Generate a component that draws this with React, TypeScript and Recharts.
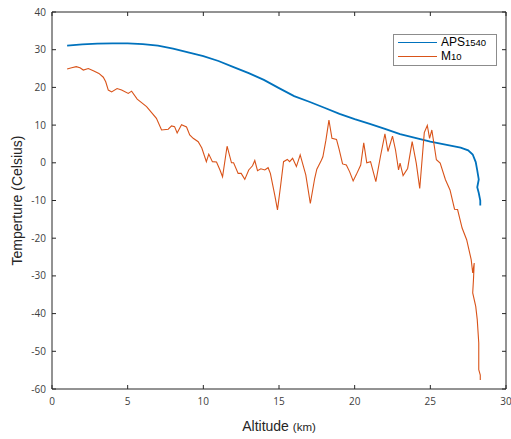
import { LineChart, Line, XAxis, YAxis, Legend } from "recharts";

const apsAlt = [
  1.0, 2.0, 3.0, 4.0, 5.0, 6.0, 7.0, 8.0, 9.0, 10.0, 11.0, 12.0, 13.0, 14.0,
  15.0, 16.0, 17.0, 18.0, 19.0, 20.0, 21.0, 22.0, 23.0, 24.0, 25.0, 26.0, 27.0,
  27.5, 27.8, 28.0, 28.1, 28.2, 28.1, 28.2, 28.3, 28.3,
];
const apsTemp = [
  31.1, 31.4, 31.6, 31.7, 31.7, 31.5, 31.1, 30.3, 29.3, 28.3, 27.0, 25.4, 23.8,
  22.0, 19.8, 17.7, 16.2, 14.6, 13.0, 11.6, 10.3, 9.0, 7.6, 6.6, 5.6, 4.8, 4.0,
  3.3, 2.2, 0.2, -2.0, -4.4, -6.5, -8.0, -10.0, -11.3,
];

const m10Alt = [
  1.0, 1.3, 1.6, 1.85, 2.07, 2.4, 2.73, 3.1, 3.39, 3.55, 3.72, 3.94, 4.3, 4.6,
  5.04, 5.26, 5.63, 6.25, 6.9, 7.24, 7.68, 7.9, 8.1, 8.27, 8.56, 8.89, 9.1,
  9.33, 9.66, 9.9, 10.2, 10.36, 10.6, 10.87, 11.1, 11.27, 11.57, 11.86, 12.0,
  12.3, 12.5, 12.74, 13.0, 13.25, 13.4, 13.58, 13.8, 14.06, 14.28, 14.43, 14.72,
  14.9, 15.1, 15.3, 15.55, 15.7, 15.9, 16.15, 16.4, 16.77, 17.07, 17.36, 17.5,
  17.8, 17.9, 18.1, 18.3, 18.5, 18.8, 18.97, 19.2, 19.45, 19.67, 19.9, 20.1,
  20.4, 20.6, 20.8, 21.05, 21.4, 21.7, 22.0, 22.2, 22.5, 22.7, 22.9, 23.0, 23.2,
  23.5, 23.8, 24.07, 24.3, 24.6, 24.8, 24.95, 25.1, 25.4, 25.65, 26.0, 26.3,
  26.6, 26.8, 27.1, 27.4, 27.7, 27.8, 27.9, 27.85, 27.8, 28.0, 28.1, 28.2, 28.2,
  28.2, 28.3, 28.3,
];
const m10Temp = [
  24.9, 25.2, 25.5, 25.2, 24.6, 25.0, 24.4, 23.7, 22.7, 21.5, 19.3, 18.8, 19.7,
  19.3, 18.4, 19.0, 16.9, 14.9, 11.8, 8.7, 8.9, 9.8, 9.6, 7.9, 10.1, 9.5, 7.4,
  6.5, 5.6, 3.9, 0.3, 2.3, 0.3, 0.2, -1.9, -3.7, 4.4, 0.0, 0.0, -2.8, -2.8,
  -4.4, -1.9, -0.8, 0.6, -2.1, -1.6, -1.9, -1.3, -2.8, -8.6, -12.5, -6.3, 0.3,
  0.9, 0.3, 1.2, -1.0, 2.1, -3.2, -10.8, -4.1, -1.7, 0.7, 1.6, 6.0, 11.3, 6.5,
  6.2, 3.6, -0.3, -0.6, -2.4, -4.8, -3.2, -0.6, 5.3, 0.0, 0.3, -5.0, 1.6, 7.7,
  3.0, 7.1, 3.4, -1.9, -0.1, -3.4, -1.5, 5.6, -0.1, -6.8, 8.0, 9.9, 6.5, 8.7,
  0.8, -0.1, -4.5, -7.2, -12.3, -12.4, -17.3, -20.4, -25.7, -29.2, -26.6, -31.0,
  -34.5, -38.1, -41.6, -47.8, -51.4, -54.9, -56.3, -57.6,
];

const xTicks = [0, 5, 10, 15, 20, 25, 30];
const yTicks = [-60, -50, -40, -30, -20, -10, 0, 10, 20, 30, 40];

const apsData = apsAlt.map((alt, i) => ({ alt, temp: apsTemp[i] }));
const m10Data = m10Alt.map((alt, i) => ({ alt, temp: m10Temp[i] }));

const AXIS = "#262626";
const TICK_FONT = "'Open Sans', 'Noto Sans', sans-serif";
const LABEL_FONT = "'Liberation Sans', Arial, sans-serif";
const tickStyle = { fontSize: 10, fill: "#404040", fontFamily: TICK_FONT };
const lineStyle = { stroke: AXIS, strokeWidth: 1 };
const noLabel = () => "";

const XTitle = (props: any) => {
  const { viewBox } = props;
  const cx = viewBox.x + viewBox.width / 2;
  return (
    <text
      x={cx}
      y={viewBox.y + 42}
      textAnchor="middle"
      fontFamily={LABEL_FONT}
      fill={AXIS}
    >
      <tspan fontSize={14}>Altitude </tspan>
      <tspan fontSize={11.5}>(km)</tspan>
    </text>
  );
};

const YTitle = (props: any) => {
  const { viewBox } = props;
  const cy = viewBox.y + viewBox.height / 2;
  const cx = 17;
  return (
    <text
      x={cx}
      y={cy}
      dy="0.35em"
      textAnchor="middle"
      transform={`rotate(-90, ${cx}, ${cy})`}
      fontSize={14}
      fontFamily={LABEL_FONT}
      fill={AXIS}
    >
      Temperture (Celsius)
    </text>
  );
};

const legendItems = [
  { name: "APS", sub: "1540", color: "#0072BD" },
  { name: "M", sub: "10", color: "#D95319" },
];

const LegendBox = () => (
  <div
    style={{
      border: "1px solid #8c8c8c",
      background: "#fff",
      width: 102,
      padding: "1px 0 2px 0",
      fontFamily: LABEL_FONT,
      color: "#000",
    }}
  >
    {legendItems.map((item) => (
      <div
        key={item.name}
        style={{ height: 13.5, display: "flex", alignItems: "center", paddingLeft: 4 }}
      >
        <div style={{ width: 39, height: 0, borderTop: `1px solid ${item.color}` }} />
        <span style={{ marginLeft: 4, fontSize: 12, lineHeight: "13px" }}>
          {item.name}
          <span style={{ fontSize: 9.5 }}>{item.sub}</span>
        </span>
      </div>
    ))}
  </div>
);

export default function App() {
  return (
    <div style={{ position: "absolute", left: 0, top: 0 }}>
      <LineChart
        width={511}
        height={439}
        margin={{ top: 0, right: 0, bottom: 0, left: 0 }}
      >
        <XAxis
          xAxisId={0}
          dataKey="alt"
          type="number"
          domain={[0, 30]}
          ticks={xTicks}
          allowDataOverflow
          height={50}
          tickSize={-4}
          tickMargin={13}
          tick={tickStyle}
          tickLine={lineStyle}
          axisLine={lineStyle}
          label={<XTitle />}
        />
        <XAxis
          xAxisId="top"
          orientation="top"
          dataKey="alt"
          type="number"
          domain={[0, 30]}
          ticks={xTicks}
          allowDataOverflow
          height={12}
          tickSize={-4}
          tickFormatter={noLabel}
          tickLine={lineStyle}
          axisLine={lineStyle}
        />
        <YAxis
          yAxisId={0}
          type="number"
          domain={[-60, 40]}
          ticks={yTicks}
          allowDataOverflow
          width={52}
          tickSize={-4}
          tickMargin={10}
          tick={tickStyle}
          tickLine={lineStyle}
          axisLine={lineStyle}
          label={<YTitle />}
        />
        <YAxis
          yAxisId="right"
          orientation="right"
          type="number"
          domain={[-60, 40]}
          ticks={yTicks}
          allowDataOverflow
          width={5}
          tickSize={-4}
          tickFormatter={noLabel}
          tickLine={lineStyle}
          axisLine={lineStyle}
        />
        <Legend
          layout="vertical"
          align="center"
          verticalAlign="middle"
          wrapperStyle={{ left: 393, top: 34, width: 104 }}
          content={() => <LegendBox />}
        />
        {/* invisible copy so the top/right frame axes get their ticks */}
        <Line
          xAxisId="top"
          yAxisId="right"
          data={apsData}
          dataKey="temp"
          stroke="none"
          dot={false}
          activeDot={false}
          isAnimationActive={false}
        />
        <Line
          name="APS1540"
          data={apsData}
          dataKey="temp"
          type="linear"
          stroke="#0072BD"
          strokeWidth={1.8}
          dot={false}
          isAnimationActive={false}
        />
        <Line
          name="M10"
          data={m10Data}
          dataKey="temp"
          type="linear"
          stroke="#D95319"
          strokeWidth={1.1}
          dot={false}
          isAnimationActive={false}
        />
      </LineChart>
    </div>
  );
}
